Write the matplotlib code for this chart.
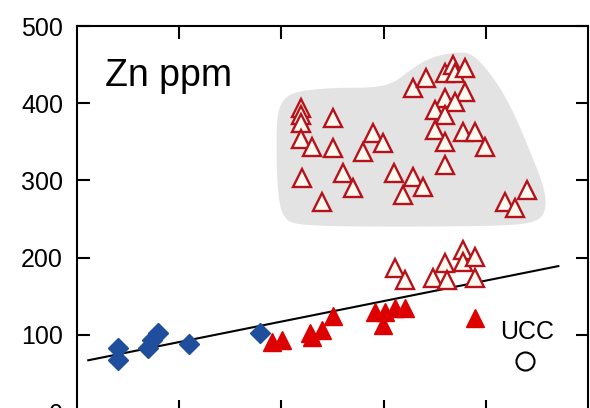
import numpy as np
import matplotlib
matplotlib.use("Agg")
import matplotlib.pyplot as plt
from matplotlib.patches import Polygon

plt.rcParams['font.family'] = ['Liberation Sans', 'DejaVu Sans']

# blue diamonds
dia_x = [4.0, 4.0, 6.9, 7.3, 7.9, 11.0, 17.9]
dia_y = [83, 67, 83, 93, 102, 88, 102]

# filled red triangles
fill_x = [19.1, 20.1, 22.8, 23.0, 24.0, 25.0, 29.2, 30.1, 29.9, 31.1, 32.1, 38.9]
fill_y = [91, 93, 102, 97, 106, 124, 130, 130, 113, 135, 135, 122]

# open triangles, lower group
low_x = [31.1, 32.1, 34.8, 36.0, 36.2, 37.8, 37.8, 38.9, 38.9]
low_y = [187, 171, 174, 193, 171, 210, 194, 201, 174]

# open triangles, grey field
up_x = [21.9, 21.9, 21.9, 25.0, 21.9, 23.0, 25.0, 29.0, 29.9, 28.0,
        22.0, 26.0, 27.0, 24.0, 31.0, 32.9, 31.9, 32.9, 34.1, 36.0,
        36.8, 37.0, 38.0, 38.0, 36.0, 37.0, 35.0, 36.0, 35.0, 36.0,
        37.8, 38.9, 39.9, 36.0, 33.9, 41.9, 42.9, 44.0]
up_y = [394, 385, 374, 381, 354, 343, 342, 361, 348, 337,
        303, 310, 290, 272, 310, 304, 281, 420, 433, 439,
        449, 439, 446, 415, 407, 402, 391, 385, 365, 350,
        363, 363, 343, 320, 291, 272, 264, 288]

# grey field outline
blob_x = [20.1, 21.3, 24.8, 29.2, 31.1, 32.6, 34.5, 37.0, 38.6, 40.4, 42.4,
          44.3, 45.8, 45.9, 44.8, 41.4, 31.6, 21.8, 20.1, 19.6, 19.5, 19.6]
blob_y = [404, 415, 420, 420, 427, 443, 459, 466, 465, 440, 398,
          339, 288, 259, 245, 241, 240, 241, 251, 288, 352, 385]

# regression line
trend_x = [1.1, 47.1]
trend_y = [67, 189]

# upper continental crust
ucc_x = [43.8]
ucc_y = [66]


def smooth(pts, n=4):
    # chaikin corner cutting on a closed outline
    for _ in range(n):
        nxt = np.roll(pts, -1, axis=0)
        q = 0.75 * pts + 0.25 * nxt
        r = 0.25 * pts + 0.75 * nxt
        pts = np.empty((2 * len(q), 2))
        pts[0::2] = q
        pts[1::2] = r
    return pts


fig = plt.figure(figsize=(5.9, 4.08), dpi=100)
ax = fig.add_axes([77 / 590, -4 / 408, 511 / 590, 386 / 408])

outline = smooth(np.column_stack([blob_x, blob_y]).astype(float))
ax.add_patch(Polygon(outline, closed=True, facecolor='#e3e3e3', edgecolor='none', zorder=1))

ax.plot(trend_x, trend_y, color='black', lw=1.5, zorder=2)

ax.plot(dia_x, dia_y, 'D', ms=10.5, color='#1f4e9c', mec='#1f4e9c', zorder=3)
ax.plot(fill_x, fill_y, '^', ms=12.5, color='#dd0000', mec='#dd0000', zorder=3)
ax.plot(low_x, low_y, '^', ms=12.5, mfc='#fffaf0', mec='#b5121b', mew=1.7, zorder=3)
ax.plot(up_x, up_y, '^', ms=12.5, mfc='#fffaf0', mec='#b5121b', mew=1.7, zorder=3)
ax.plot(ucc_x, ucc_y, 'o', ms=13, mfc='white', mec='black', mew=1.5, zorder=3)

ax.text(41.4, 94.6, 'UCC', fontsize=18, ha='left', va='baseline')
ax.text(2.7, 422, 'Zn ppm', fontsize=27, ha='left', va='baseline')

ax.set_xlim(0, 50)
ax.set_ylim(0, 500)
ax.set_xticks([10, 20, 30, 40])
ax.set_yticks([0, 100, 200, 300, 400, 500])
ax.tick_params(direction='in', length=9, width=1.5, top=True, right=True,
               labelbottom=False, labelsize=18, pad=10)
for s in ax.spines.values():
    s.set_linewidth(1.5)

fig.savefig('out.png', dpi=100)
